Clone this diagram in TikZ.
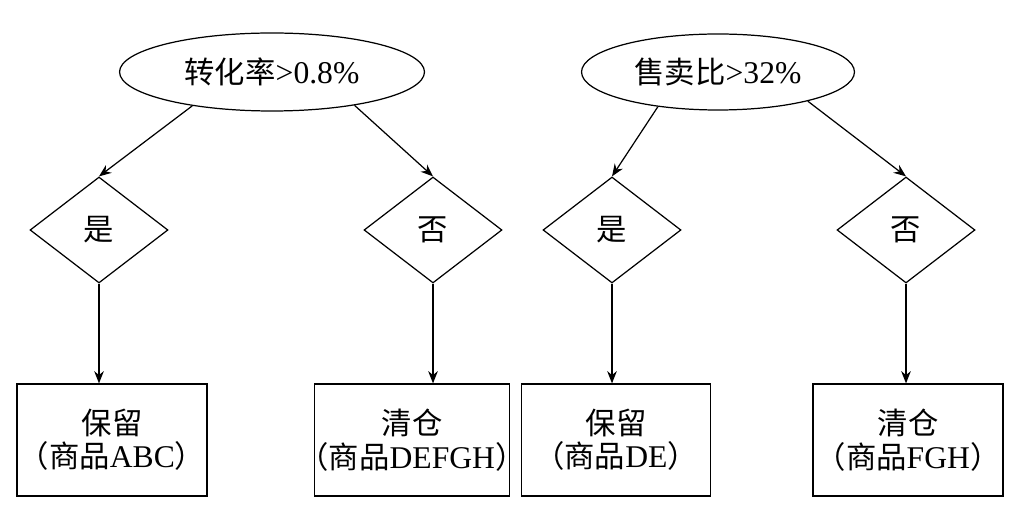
\documentclass[tikz,border=0pt]{standalone}
\usepackage{fontspec}
\setmainfont{Liberation Serif}
\newfontfamily\cjk{Noto Sans CJK SC}[Scale=0.96]
\usetikzlibrary{arrows.meta,positioning,shapes.geometric}

\begin{document}
\begin{tikzpicture}[x=0.02cm,y=-0.02cm,
    every node/.style={font=\fontsize{18}{19}\selectfont},
    cond/.style={draw,ellipse,inner sep=0pt,line width=0.7pt},
    choice/.style={draw,diamond,aspect=1.3,minimum width=2.76cm,minimum height=2.12cm,inner sep=0pt,line width=0.7pt},
    result/.style={draw,rectangle,minimum height=2.24cm,align=center,inner sep=0pt,line width=0.7pt},
    link/.style={-{Stealth[length=7pt,width=5.5pt]},line width=0.7pt}]
    \useasboundingbox (0,0) rectangle (1024,506);
    % Conditions
    \node[cond,minimum width=6.1cm,minimum height=1.56cm] (rate) at (272,72) {{\cjk 转化率}>0.8\%};
    \node[cond,minimum width=5.46cm,minimum height=1.52cm] (sale) at (718,72) {{\cjk 售卖比}>32\%};
    % Answers
    \node[choice] (yes1) at (99,230) {\cjk 是};
    \node[choice] (no1) at (433,230) {\cjk 否};
    \node[choice] (yes2) at (612,230) {\cjk 是};
    \node[choice] (no2) at (906,230) {\cjk 否};
    % Results
    \node[result,minimum width=3.8cm] (keep1) at (112,440) {{\cjk 保留}\\{\cjk （商品}ABC{\cjk ）}};
    \node[result,minimum width=3.9cm] (clear1) at (412,440) {{\cjk 清仓}\\\makebox[0pt]{{\cjk （商品}DEFGH{\cjk ）}}};
    \node[result,minimum width=3.78cm] (keep2) at (616,440) {{\cjk 保留}\\{\cjk （商品}DE{\cjk ）}};
    \node[result,minimum width=3.8cm] (clear2) at (908,440) {{\cjk 清仓}\\{\cjk （商品}FGH{\cjk ）}};
    % Links
    \draw[link] (rate.203) -- (yes1.north);
    \draw[link] (rate.338) -- (no1.north);
    \draw[link] (sale.210) -- (yes2.north);
    \draw[link] (sale.342) -- (no2.north);
    \draw[link] (yes1.south) -- (yes1.south |- keep1.north);
    \draw[link] (no1.south) -- (no1.south |- clear1.north);
    \draw[link] (yes2.south) -- (yes2.south |- keep2.north);
    \draw[link] (no2.south) -- (no2.south |- clear2.north);
\end{tikzpicture}
\end{document}
